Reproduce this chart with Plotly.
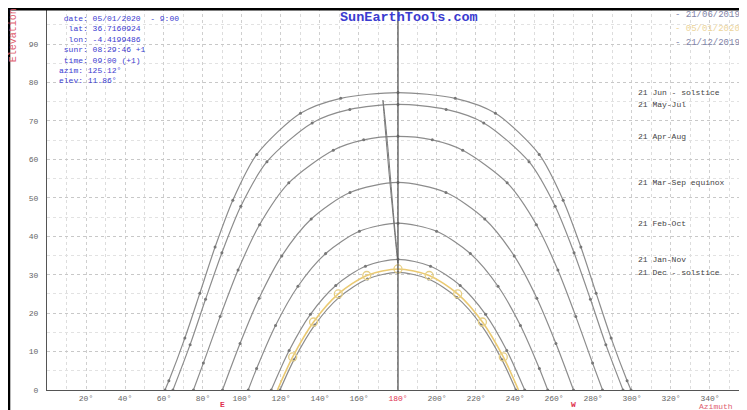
import plotly.graph_objects as go

# sun path data (azimuth deg, elevation deg)
jun_az = [60.5, 62.5, 70.7, 78.4, 86.2, 95.3, 107.6, 130.0, 150.6, 180.0, 209.4, 230.0, 252.4, 264.7, 273.8, 281.6, 289.3, 297.5, 299.5]
jun_el = [0.0, 2.4, 13.5, 25.2, 37.2, 49.4, 61.3, 72.0, 75.9, 77.4, 75.9, 72.0, 61.3, 49.4, 37.2, 25.2, 13.5, 2.4, 0.0]

may_az = [64.6, 73.4, 81.3, 89.7, 99.4, 112.8, 136.0, 155.3, 180.0, 204.7, 224.0, 247.2, 260.6, 270.3, 278.7, 286.6, 295.4]
may_el = [0.0, 11.8, 23.6, 35.7, 47.8, 59.4, 69.5, 73.0, 74.3, 73.0, 69.5, 59.4, 47.8, 35.7, 23.6, 11.8, 0.0]

apr_az = [75.1, 80.2, 88.8, 98.0, 109.0, 124.0, 146.8, 162.4, 180.0, 197.6, 213.2, 236.0, 251.0, 262.0, 271.2, 279.8, 284.9]
apr_el = [0.0, 7.0, 19.1, 31.2, 43.0, 53.9, 62.4, 65.1, 66.0, 65.1, 62.4, 53.9, 43.0, 31.2, 19.1, 7.0, 0.0]

mar_az = [90.0, 99.0, 108.8, 120.4, 135.5, 155.4, 180.0, 204.6, 224.5, 239.6, 251.2, 261.0, 270.0]
mar_el = [0.0, 12.1, 23.9, 34.9, 44.5, 51.4, 54.0, 51.4, 44.5, 34.9, 23.9, 12.1, 0.0]

feb_az = [103.2, 107.5, 117.2, 128.7, 142.9, 160.2, 180.0, 199.8, 217.1, 231.3, 242.8, 252.5, 256.8]
feb_el = [0.0, 5.6, 16.8, 27.0, 35.5, 41.3, 43.4, 41.3, 35.5, 27.0, 16.8, 5.6, 0.0]

jan_az = [115.0, 124.2, 135.1, 148.1, 163.3, 180.0, 196.7, 211.9, 224.9, 235.8, 245.0]
jan_el = [0.0, 10.3, 19.7, 27.2, 32.2, 34.0, 32.2, 27.2, 19.7, 10.3, 0.0]

dec_az = [119.5, 126.7, 137.3, 149.8, 164.3, 180.0, 195.7, 210.2, 222.7, 233.3, 240.5]
dec_el = [0.0, 7.9, 16.9, 24.1, 28.9, 30.6, 28.9, 24.1, 16.9, 7.9, 0.0]

today_az = [118.2, 126.0, 136.7, 149.4, 164.0, 180.0, 196.0, 210.6, 223.3, 234.0, 241.8]
today_el = [0.0, 8.6, 17.7, 25.0, 29.8, 31.5, 29.8, 25.0, 17.7, 8.6, 0.0]

# hour line through the year
hour_az = [172.3, 173.5, 175.0, 176.5, 178.0, 179.3, 180.0, 179.5, 178.3, 177.0, 175.5, 174.3, 173.2, 172.3]
hour_el = [75.4, 70.0, 62.0, 53.0, 44.0, 37.0, 33.0, 35.0, 41.0, 48.0, 56.0, 63.0, 69.5, 75.4]

curve_labels = ["21 Jun - solstice", "21 May-Jul", "21 Apr-Aug", "21 Mar-Sep equinox",
                "21 Feb-Oct", "21 Jan-Nov", "21 Dec - solstice"]

info_lines = [" date: 05/01/2020  - 9:00", "  lat: 36.7160924", "  lon: -4.4199486",
              " sunr: 08:29:46 +1", " time: 09:00 (+1)", "azim: 125.12°", "elev: 11.86°"]

legend_texts = ["- 21/06/2019", "- 05/01/2020", "- 21/12/2019"]
legend_colors = ["#7f84a8", "#ecd49a", "#7f84a8"]

az_ticks = list(range(20, 360, 20))
el_ticks = list(range(0, 100, 10))
cardinals = {"E": 90, "W": 270}
SOUTH_AZ = 180

MONO = "Liberation Mono"
GRAY = "#8c8c8c"
RED = "#e03050"

fig = go.Figure()

curves = [(jun_az, jun_el), (may_az, may_el), (apr_az, apr_el), (mar_az, mar_el),
          (feb_az, feb_el), (jan_az, jan_el), (dec_az, dec_el)]

for az, el in curves:
    fig.add_trace(go.Scatter(
        x=az, y=el, mode='lines+markers',
        line=dict(color=GRAY, width=1.2, shape='spline', smoothing=0.8),
        marker=dict(size=3, color='#777777'),
        hoverinfo='skip'
    ))

# current day path
fig.add_trace(go.Scatter(
    x=today_az, y=today_el, mode='lines',
    line=dict(color='#ebca72', width=1.6, shape='spline', smoothing=0.8),
    hoverinfo='skip'
))
fig.add_trace(go.Scatter(
    x=today_az[1:-1], y=today_el[1:-1], mode='markers',
    marker=dict(size=8, color='rgba(0,0,0,0)', line=dict(color='#e6cf86', width=1.3)),
    hoverinfo='skip'
))

fig.add_trace(go.Scatter(
    x=hour_az, y=hour_el, mode='lines',
    line=dict(color='#777777', width=1, shape='spline'),
    hoverinfo='skip'
))

fig.add_vline(x=SOUTH_AZ, line=dict(color='#555555', width=1.3))

# date labels on the right, at each curve's noon elevation
for label, (az, el) in zip(curve_labels, curves):
    fig.add_annotation(x=302, y=max(el), xref='x', yref='y', text=label,
                       showarrow=False, xanchor='left', yanchor='middle',
                       font=dict(family=MONO, size=8, color='#444444'))

fig.add_annotation(x=0.0144, y=0.9895, xref='paper', yref='paper',
                   text="<br>".join(info_lines), showarrow=False,
                   xanchor='left', yanchor='top', align='left',
                   font=dict(family=MONO, size=8, color='#3b3bd0'))

fig.add_annotation(x=0.522, y=0.9764, xref='paper', yref='paper',
                   text="<b>SunEarthTools.com</b>", showarrow=False,
                   xanchor='center', yanchor='middle',
                   font=dict(family=MONO, size=13.5, color='#3b3bd0'))

for i, (txt, col) in enumerate(zip(legend_texts, legend_colors)):
    fig.add_annotation(x=0.903, y=0.9817 - i * 0.0366, xref='paper', yref='paper',
                       text=txt, showarrow=False, xanchor='left', yanchor='middle',
                       font=dict(family=MONO, size=9, color=col))

fig.add_annotation(x=-0.049, y=0.929, xref='paper', yref='paper',
                   text="Elevation", textangle=-90, showarrow=False,
                   xanchor='center', yanchor='middle',
                   font=dict(family=MONO, size=10, color='#e06070'))
fig.add_annotation(x=0.966, y=-0.044, xref='paper', yref='paper',
                   text="Azimuth", showarrow=False, xanchor='center', yanchor='middle',
                   font=dict(family=MONO, size=8, color='#e06070'))

for name, az in cardinals.items():
    fig.add_annotation(x=az, y=-0.037, xref='x', yref='paper', text="<b>%s</b>" % name,
                       showarrow=False, xanchor='center', yanchor='middle',
                       font=dict(family=MONO, size=8, color=RED))

# outer frame
fig.add_shape(type='rect', xref='paper', yref='paper',
              x0=-0.0548, x1=1.0014, y0=-0.2, y1=0.9968,
              line=dict(color='black', width=2.5))

tick_text = ["<span style='color:%s'>%d°</span>" % (RED, a) if a == SOUTH_AZ else "%d°" % a
             for a in az_ticks]

# the page body adds an 8px offset, so the figure is sized to fit the window
fig.update_layout(
    width=739, height=402, autosize=False,
    margin=dict(l=39, r=7, t=0, b=20),
    paper_bgcolor='white', plot_bgcolor='white',
    showlegend=False,
    font=dict(family=MONO, size=8, color='#666666'),
    xaxis=dict(
        range=[0, 355.4], tickvals=az_ticks, ticktext=tick_text,
        showgrid=True, gridcolor='#cfcfcf', griddash='dot', gridwidth=1,
        minor=dict(dtick=10, showgrid=True, gridcolor='#dddddd', griddash='dot'),
        showline=True, linecolor='#555555', linewidth=1.2,
        zeroline=False, ticks='', tickfont=dict(size=8, color='#666666'),
        ticklabelstandoff=0
    ),
    yaxis=dict(
        range=[0, 99.4], tickvals=el_ticks, ticksuffix='°',
        showgrid=True, gridcolor='#c8c8c8', griddash='dot', gridwidth=1,
        minor=dict(dtick=5, showgrid=True, gridcolor='#e2e2e2', griddash='dot'),
        showline=True, linecolor='#555555', linewidth=1.2,
        zeroline=False, ticks='', tickfont=dict(size=8, color='#666666'),
        ticklabelstandoff=6
    )
)

fig.write_html("out.html")
